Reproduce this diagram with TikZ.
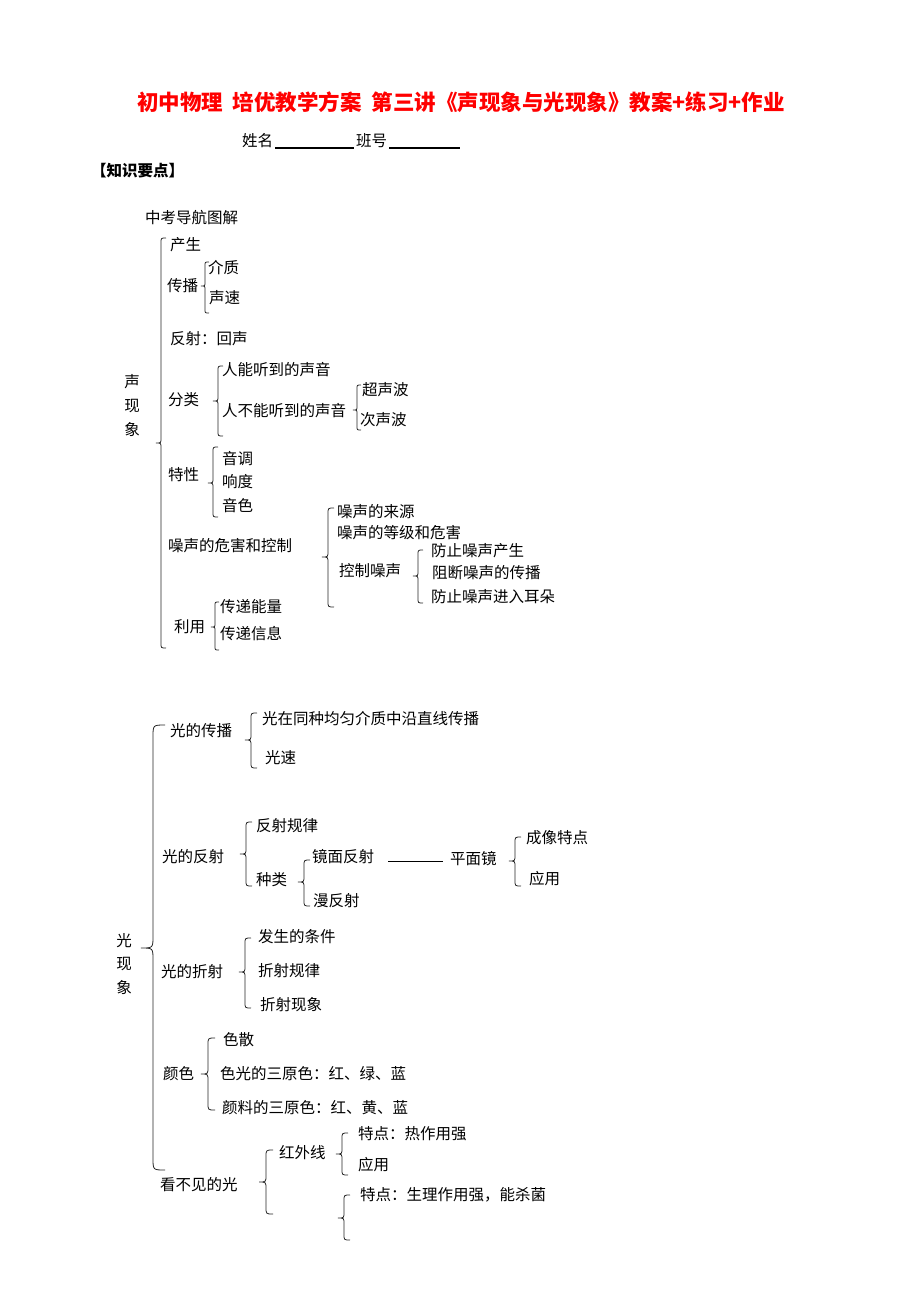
\documentclass[tikz,border=0pt]{standalone}
\usepackage{fontspec}
\setmainfont{Noto Sans CJK SC}
\begin{document}
\begin{tikzpicture}[x=1pt,y=-1pt,
  txt/.style={anchor=west,inner sep=0pt,font=\fontsize{15.5}{19}\selectfont},
  vtxt/.style={anchor=center,inner sep=0pt,align=center},
  brc/.style={draw=black!85,line width=0.8pt},
  uline/.style={draw=black,line width=1.1pt}]
\useasboundingbox[fill=white] (0,0) rectangle (920,1302);
\newcommand\bracel[5]{%
  \draw[brc] (#1+#5,#2) .. controls (#1,#2) .. (#1,#2+#5) -- (#1,#3-#5)
    .. controls (#1,#3) .. (#1-#5,#3) .. controls (#1,#3) .. (#1,#3+#5)
    -- (#1,#4-#5) .. controls (#1,#4) .. (#1+#5,#4);}
% header
\node[anchor=center,inner sep=0pt,text=red,font=\fontsize{21.5}{24}\selectfont\bfseries] (title) at (461,102) {初中物理\hspace{0.45em}培优教学方案\hspace{0.45em}第三讲《声现象与光现象》教案+练习+作业};
\node[txt] (xm) at (242,141) {姓名};
\node[txt] (bh) at (356,141) {班号};
\draw[uline] ([xshift=2pt]xm.east |- 0,148) -- (354,148);
\draw[uline] ([xshift=2pt]bh.east |- 0,148) -- (460,148);
\node[txt,font=\fontsize{15.5}{19}\selectfont\bfseries] (zs) at (91,171) {【知识要点】};
\node[txt] (dh) at (145,218) {中考导航图解};
% sound
\node[vtxt,font=\fontsize{15.5}{24}\selectfont] (sxx) at (132,406) {声\\现\\象};
\bracel{161}{238}{443}{648}{5}
\node[txt] (cs) at (170,245) {产生};
\node[txt] (cb) at (167,286) {传播};
\bracel{205}{262}{286}{313}{4}
\node[txt] (jz) at (208,268) {介质};
\node[txt] (ss) at (209,298) {声速};
\node[txt] (fs) at (170,339) {反射：回声};
\node[txt] (fl) at (168,400) {分类};
\bracel{218}{366}{401}{436}{5}
\node[txt] (rn) at (222,370) {人能听到的声音};
\node[txt] (rbn) at (222,411) {人不能听到的声音};
\bracel{357}{385}{410}{430}{4}
\node[txt] (csb) at (362,390) {超声波};
\node[txt] (ccb) at (360,420) {次声波};
\node[txt] (tx) at (168,475) {特性};
\bracel{213}{447}{483}{517}{5}
\node[txt] (yd) at (222,459) {音调};
\node[txt] (xd) at (222,482) {响度};
\node[txt] (ys) at (222,506) {音色};
\node[txt] (zh) at (168,546) {噪声的危害和控制};
\bracel{328}{508}{557}{607}{6}
\node[txt] (ly) at (337,512) {噪声的来源};
\node[txt] (dj) at (337,533) {噪声的等级和危害};
\node[txt] (kz) at (339,571) {控制噪声};
\bracel{418}{550}{576}{603}{5}
\node[txt] (k1) at (431,551) {防止噪声产生};
\node[txt] (k2) at (432,573) {阻断噪声的传播};
\node[txt] (k3) at (431,597) {防止噪声进入耳朵};
\node[txt] (yy) at (174,627) {利用};
\bracel{215}{602}{627}{650}{4}
\node[txt] (nl) at (220,607) {传递能量};
\node[txt] (xx) at (220,634) {传递信息};
% light
\node[vtxt,font=\fontsize{15.5}{23.5}\selectfont] (gxx) at (124,964) {光\\现\\象};
\bracel{153}{725}{948}{1170}{12}
\node[txt] (gcb) at (170,731) {光的传播};
\bracel{251}{713}{740}{768}{6}
\node[txt] (zx) at (262,719) {光在同种均匀介质中沿直线传播};
\node[txt] (gs) at (265,758) {光速};
\node[txt] (gfs) at (162,857) {光的反射};
\bracel{246}{822}{854}{886}{6}
\node[txt] (fsgl) at (256,826) {反射规律};
\node[txt] (zl) at (256,880) {种类};
\bracel{304}{860}{882}{906}{6}
\node[txt] (jm) at (312,857) {镜面反射};
\node[txt] (mf) at (313,901) {漫反射};
\node[txt] (pm) at (450,859) {平面镜};
\draw[line width=1pt] ([xshift=14pt,yshift=-4pt]jm.east) -- ([xshift=-7pt,yshift=-4pt]jm.east -| pm.west);
\bracel{515}{837}{861}{886}{6}
\node[txt] (cx) at (526,838) {成像特点};
\node[txt] (yy2) at (529,879) {应用};
\node[txt] (gzs) at (161,972) {光的折射};
\bracel{245}{938}{972}{1008}{6}
\node[txt] (tj) at (258,937) {发生的条件};
\node[txt] (zsgl) at (258,971) {折射规律};
\node[txt] (zsxx) at (260,1005) {折射现象};
\node[txt] (ysc) at (163,1074) {颜色};
\bracel{208}{1038}{1074}{1110}{7}
\node[txt] (sc) at (223,1040) {色散};
\node[txt] (sg) at (220,1074) {色光的三原色：红、绿、蓝};
\node[txt] (yl) at (222,1108) {颜料的三原色：红、黄、蓝};
\node[txt] (kbj) at (160,1185) {看不见的光};
\bracel{266}{1150}{1182}{1214}{7}
\node[txt] (hwx) at (279,1153) {红外线};
\bracel{342}{1133}{1154}{1175}{6}
\node[txt] (td1) at (358,1134) {特点：热作用强};
\node[txt] (yy3) at (358,1165) {应用};
\bracel{344}{1195}{1218}{1240}{6}
\node[txt] (td2) at (360,1195) {特点：生理作用强，能杀菌};
\end{tikzpicture}
\end{document}
